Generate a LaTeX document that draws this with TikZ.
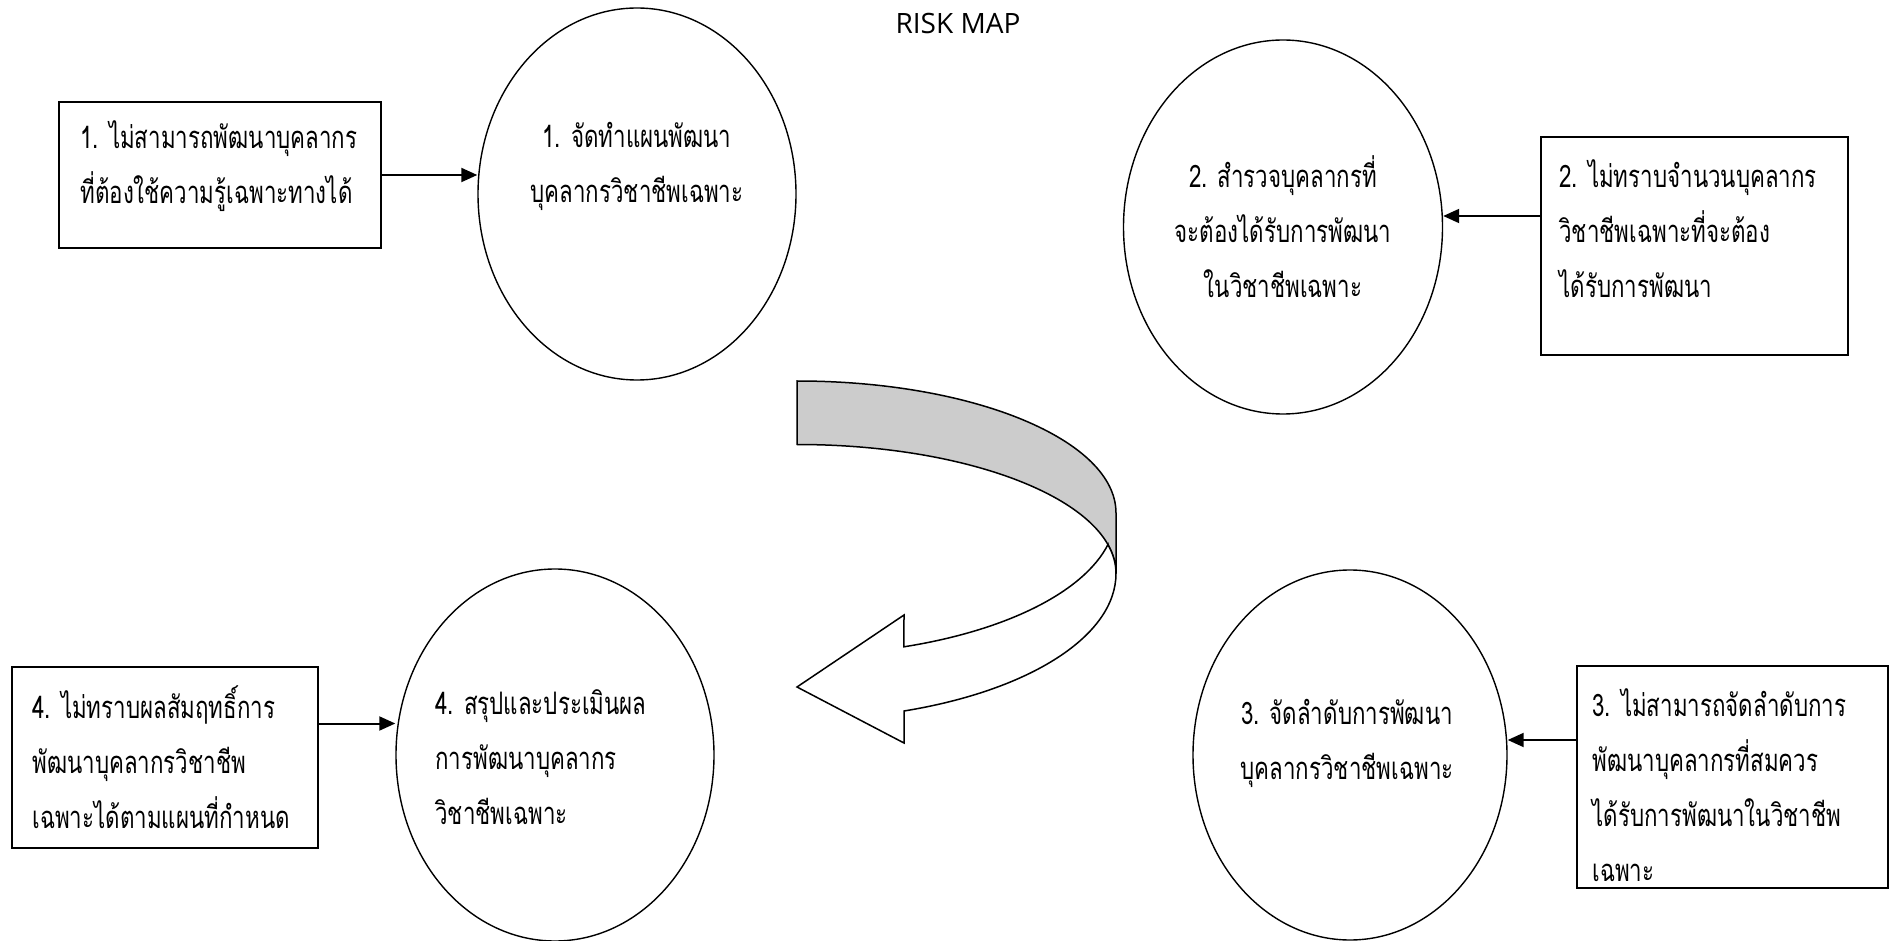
\documentclass[tikz,border=0pt]{standalone}
\usepackage{fontspec}
\setmainfont{Open Sans}
\newfontfamily\thaifont[Script=Thai,FakeStretch=0.72]{Loma}
\usetikzlibrary{arrows.meta,shapes.geometric}
\tikzset{
	riskbox/.style 2 args={draw,line width=1pt,minimum width=#1,minimum height=#2,inner sep=0pt},
	riskoval/.style 2 args={draw,ellipse,line width=0.7pt,minimum width=#1,minimum height=#2,inner sep=0pt},
	thtext/.style={font=\thaifont\fontsize{15.5pt}{27.5pt}\selectfont,inner sep=0pt},
	link/.style={line width=1pt,-{Triangle[length=8pt,width=7pt]}}
}
\begin{document}
\begin{tikzpicture}[x=0.5pt,y=-0.5pt]
	\useasboundingbox (0,0) rectangle (1892,941);
	\node [font=\fontsize{14pt}{16pt}\selectfont] (title) at (958,23.5) {RISK MAP};

	\node [riskbox={161pt}{73pt}] (b1) at (220,175) {};
	\node [riskoval={159pt}{186pt}] (e1) at (637,194) {};
	\node [riskoval={159.5pt}{187pt}] (e2) at (1283,227) {};
	\node [riskbox={153.5pt}{109pt}] (b2) at (1694.5,246) {};
	\node [riskoval={157pt}{185pt}] (e3) at (1350,755) {};
	\node [riskbox={155.5pt}{111pt}] (b3) at (1732.5,777) {};
	\node [riskoval={159pt}{186pt}] (e4) at (555,755) {};
	\node [riskbox={153pt}{90.5pt}] (b4) at (165,757.5) {};

	\node [thtext,align=left,anchor=west] (tb1) at (80,166) {1. ไม่สามารถพัฒนาบุคลากร\\ที่ต้องใช้ความรู้เฉพาะทางได้};
	\node [thtext,align=center] (te1) at (637,166) {1. จัดทำแผนพัฒนา\\บุคลากรวิชาชีพเฉพาะ};
	\node [thtext,align=center] (te2) at (1283,227) {2. สำรวจบุคลากรที่\\จะต้องได้รับการพัฒนา\\ในวิชาชีพเฉพาะ};
	\node [thtext,align=left,anchor=west] (tb2) at (1559,229) {2. ไม่ทราบจำนวนบุคลากร\\วิชาชีพเฉพาะที่จะต้อง\\ได้รับการพัฒนา};
	\node [thtext,align=center] (te3) at (1347,743.5) {3. จัดลำดับการพัฒนา\\บุคลากรวิชาชีพเฉพาะ};
	\node [thtext,align=left,anchor=west] (tb3) at (1592,785.5) {3. ไม่สามารถจัดลำดับการ\\พัฒนาบุคลากรที่สมควร\\ได้รับการพัฒนาในวิชาชีพ\\เฉพาะ};
	\node [thtext,align=left,anchor=west] (te4) at (435,757.5) {4. สรุปและประเมินผล\\การพัฒนาบุคลากร\\วิชาชีพเฉพาะ};
	\node [thtext,align=left,anchor=west] (tb4) at (32,757.5) {4. ไม่ทราบผลสัมฤทธิ์การ\\พัฒนาบุคลากรวิชาชีพ\\เฉพาะได้ตามแผนที่กำหนด};

	\coordinate (a2) at ([yshift=15pt]b2.west);
	\coordinate (a3) at ([yshift=18.5pt]b3.west);
	\coordinate (a4) at ([yshift=17pt]b4.east);
	\draw [link] (b1.east) -- (b1.east -| e1.west);
	\draw [link] (a2) -- (a2 -| e2.east);
	\draw [link] (a3) -- (a3 -| e3.east);
	\draw [link] (a4) -- (a4 -| e4.west);

	\draw [line width=0.75pt,fill=gray!40] (797,381) arc [start angle=-90,end angle=0,x radius=319,y radius=132] -- (1116,573.5) arc [start angle=0,end angle=-90,x radius=319,y radius=129] -- cycle;
	\draw [line width=0.75pt,fill=white] (1108,544.5) arc [start angle=12.8,end angle=70.4,x radius=319,y radius=142] -- (904,615) -- (797,687) -- (904,743) -- (904,711) arc [start angle=70.4,end angle=0,x radius=319,y radius=146] arc [start angle=0,end angle=-12.8,x radius=319,y radius=129] -- cycle;
\end{tikzpicture}
\end{document}
